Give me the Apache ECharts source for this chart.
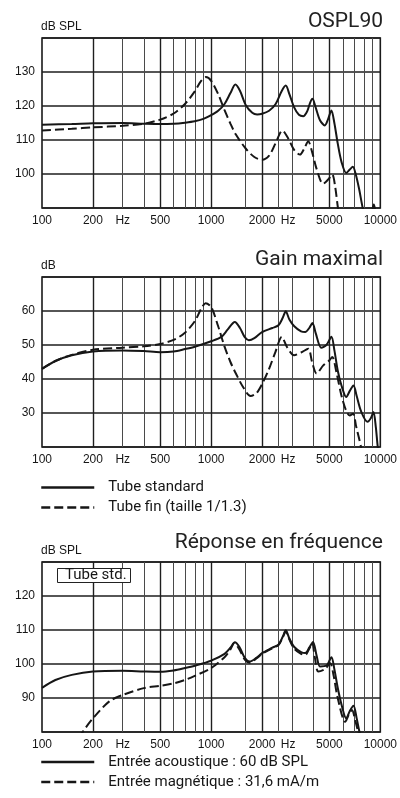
<!DOCTYPE html>
<html>
<head>
<meta charset="utf-8">
<title>Courbes</title>
<script src="https://cdn.jsdelivr.net/npm/echarts@6.0.0/dist/echarts.min.js"></script>
<style>
html, body { margin: 0; padding: 0; background: #fff; }
#chart { width: 400px; height: 798px; }
</style>
</head>
<body>
<div id="chart"></div>
<script>
// --- data (Hz / dB) ---
// grid lines and labels on the frequency axis
const majorGridHz = [200, 500, 1000, 2000, 5000];
const minorGridHz = [300, 400, 600, 700, 800, 900, 1600, 2500, 3000, 4000, 6000, 7000, 8000, 9000];
const xLabelHz = [100, 200, 300, 500, 1000, 2000, 2850, 5000, 10000];
const xLabelText = ['100', '200', 'Hz', '500', '1000', '2000', 'Hz', '5000', '10000'];

// OSPL90
const osplStdHz = [100, 150, 200, 300, 400, 500, 600, 700, 800, 900, 1000, 1100, 1200, 1300, 1390, 1480, 1600, 1750, 1870, 2000, 2200, 2400, 2600, 2760, 2900, 3100, 3300, 3500, 3700, 3850, 3970, 4150, 4400, 4700, 4900, 5140, 5350, 5600, 5900, 6290, 6600, 6880, 7150, 7500, 7870, 8300, 8800, 9150, 9450, 10000];
const osplStdDb = [114.5, 114.7, 114.9, 115.0, 114.8, 114.7, 114.8, 115.1, 115.5, 116.2, 117.3, 118.6, 120.6, 123.8, 126.3, 124.5, 120.3, 118.0, 117.5, 117.7, 118.6, 120.5, 124.2, 126.0, 123.5, 119.5, 117.4, 117.0, 118.5, 121.0, 122.1, 119.5, 115.8, 114.3, 116.0, 118.7, 115.0, 109.0, 103.5, 100.3, 101.3, 102.1, 100.0, 95.5, 90.0, 85.5, 87.5, 91.0, 88.0, 84.0];
const osplFinHz = [100, 150, 200, 300, 400, 500, 600, 700, 800, 870, 930, 1000, 1100, 1200, 1300, 1400, 1600, 1800, 2000, 2200, 2400, 2640, 2850, 3100, 3350, 3550, 3750, 3950, 4200, 4590, 4900, 5200, 5400, 5620, 5900];
const osplFinDb = [112.8, 113.3, 113.7, 114.2, 114.8, 116.0, 117.8, 120.6, 124.3, 127.3, 128.5, 127.4, 123.5, 118.8, 114.8, 111.6, 107.5, 105.0, 104.2, 105.4, 109.0, 112.8, 110.5, 107.0, 105.7, 107.5, 109.6, 106.5, 101.5, 97.1, 98.3, 99.8, 96.5, 90.0, 84.0];

// Gain maximal
const gainStdHz = [100, 120, 150, 200, 300, 400, 500, 600, 700, 800, 1000, 1150, 1250, 1380, 1480, 1580, 1670, 1800, 2000, 2300, 2500, 2650, 2760, 2900, 3100, 3400, 3600, 3800, 3970, 4150, 4480, 4800, 5140, 5350, 5600, 5900, 6290, 6600, 6940, 7250, 7700, 8400, 8800, 9110, 9400, 9660, 10000];
const gainStdDb = [43.0, 45.3, 47.0, 48.1, 48.4, 48.2, 47.9, 48.1, 48.8, 49.5, 51.1, 52.4, 54.5, 56.8, 55.0, 52.3, 51.4, 52.0, 53.8, 55.0, 55.8, 58.0, 59.9, 57.5, 55.5, 54.0, 53.8, 55.0, 56.5, 53.5, 49.2, 50.0, 52.4, 48.5, 42.5, 38.0, 34.7, 36.5, 38.1, 35.0, 30.5, 27.4, 28.5, 30.3, 26.0, 20.0, 15.0];
const gainFinHz = [100, 120, 150, 200, 300, 400, 500, 600, 700, 800, 870, 926, 1000, 1100, 1200, 1300, 1400, 1550, 1710, 1850, 2000, 2200, 2400, 2615, 2800, 3090, 3400, 3750, 3950, 4200, 4600, 5000, 5200, 5500, 5900, 6300, 6590, 6900, 7200, 7690, 8000];
const gainFinDb = [43.0, 45.3, 47.1, 48.6, 49.2, 49.6, 50.3, 51.5, 53.6, 57.0, 60.5, 62.3, 61.2, 55.5, 49.5, 45.0, 41.6, 37.5, 35.0, 35.8, 38.5, 43.0, 48.0, 52.4, 49.5, 47.0, 47.8, 48.9, 45.0, 41.6, 44.0, 45.5, 46.5, 42.0, 35.0, 30.5, 29.3, 29.8, 26.0, 20.0, 15.0];

// Réponse en fréquence
const repAcHz = [100, 120, 150, 200, 300, 400, 500, 600, 700, 800, 1000, 1200, 1300, 1380, 1470, 1580, 1690, 1850, 2000, 2300, 2500, 2650, 2760, 2900, 3100, 3400, 3600, 3800, 4000, 4200, 4400, 4800, 5140, 5350, 5600, 5900, 6290, 6600, 6940, 7250, 7530, 8000];
const repAcDb = [93.0, 95.3, 96.8, 97.8, 98.0, 97.8, 97.7, 98.1, 98.8, 99.5, 101.0, 103.0, 104.8, 106.4, 105.0, 101.8, 100.7, 101.8, 103.2, 104.8, 105.7, 108.0, 109.9, 107.5, 105.0, 103.5, 103.2, 104.8, 106.5, 102.5, 99.3, 99.5, 102.0, 98.5, 93.0, 88.0, 84.0, 86.2, 87.7, 84.0, 80.0, 75.0];
const repMagHz = [150, 174, 200, 250, 300, 400, 500, 600, 700, 800, 1000, 1200, 1300, 1370, 1460, 1580, 1690, 1850, 2000, 2300, 2500, 2650, 2760, 2900, 3100, 3400, 3600, 3800, 3950, 4100, 4300, 4700, 5050, 5300, 5600, 6200, 6500, 6800, 7100, 7400, 7800];
const repMagDb = [75.0, 80.0, 84.0, 89.0, 90.9, 92.9, 93.6, 94.3, 95.3, 96.5, 98.8, 102.0, 104.3, 106.2, 104.5, 101.3, 100.4, 101.6, 103.0, 104.6, 105.6, 107.8, 109.6, 107.2, 104.5, 103.0, 102.7, 104.5, 106.2, 102.0, 97.8, 98.5, 100.2, 96.5, 90.0, 83.0, 85.0, 86.5, 83.5, 80.0, 75.0];

const yRanges = [[90, 140], [20, 70], [80, 130]];
const titles = ['OSPL90', 'Gain maximal', 'Réponse en fréquence'];
const unitNames = ['dB SPL', 'dB', 'dB SPL'];
const legendNames = [
    ['Tube standard', 'Tube fin (taille 1/1.3)'],
    ['Entrée acoustique : 60 dB SPL', 'Entrée magnétique : 31,6 mA/m']
];

// --- layout ---
const gridTops = [38, 277, 562];
const numFont = '"Liberation Sans Narrow", "Liberation Sans", Arial, sans-serif';
const textFont = 'Roboto, "Noto Sans", sans-serif';
const ink = '#161616';

const lg = v => Math.log10(v);
const pairs = (hz, db) => hz.map((f, i) => [lg(f), db[i]]);
const labelLogs = xLabelHz.map(lg);

let grid = [], xAxis = [], yAxis = [];
gridTops.forEach((top, i) => {
    grid.push({
        left: 42, right: 17, top: top, height: 170,
        show: true, borderColor: '#1a1a1a', borderWidth: 1.6
    });
    // main axis: labels + heavy lines
    xAxis.push({
        gridIndex: i, type: 'value', min: 2, max: 4,
        axisLine: { show: false },
        axisTick: { show: false, customValues: majorGridHz.map(lg) },
        splitLine: { show: true, lineStyle: { color: '#1e1e1e', width: 1.4 } },
        axisLabel: {
            customValues: labelLogs,
            margin: 7,
            fontFamily: numFont, fontSize: 12, color: ink,
            formatter: function (v) {
                let j = labelLogs.findIndex(l => Math.abs(l - v) < 1e-6);
                return j < 0 ? '' : xLabelText[j];
            }
        }
    });
    // minor lines
    xAxis.push({
        gridIndex: i, type: 'value', min: 2, max: 4,
        axisLine: { show: false },
        axisTick: { show: false, customValues: minorGridHz.map(lg) },
        axisLabel: { show: false },
        splitLine: { show: true, lineStyle: { color: '#4a4a4a', width: 1 } }
    });
    yAxis.push({
        gridIndex: i, type: 'value',
        min: yRanges[i][0], max: yRanges[i][1], interval: 10,
        axisLine: { show: false },
        axisTick: { show: false },
        splitLine: { lineStyle: { color: '#1e1e1e', width: 1.5 } },
        axisLabel: {
            showMinLabel: false, showMaxLabel: false, margin: 7,
            fontFamily: numFont, fontSize: 12, color: ink
        }
    });
});

const titleTops = [11, 249, 532];
const unitTops = [21, 260, 545];
let title = [];
titles.forEach((t, i) => {
    title.push({
        text: t, right: 17, top: titleTops[i], padding: 0,
        textStyle: { fontFamily: textFont, fontSize: 21, fontWeight: 'normal', color: '#222', lineHeight: 21 }
    });
    title.push({
        text: unitNames[i], left: 41, top: unitTops[i], padding: 0,
        textStyle: { fontFamily: numFont, fontSize: 12, fontWeight: 'normal', color: ink, lineHeight: 12 }
    });
});
title.push({
    text: 'Tube std.', left: 57, top: 568, padding: [0, 4, 0, 8],
    borderWidth: 1, borderColor: '#222', backgroundColor: '#fff',
    textStyle: { fontFamily: textFont, fontSize: 15, fontWeight: 'normal', color: ink, lineHeight: 15 }
});

const solid = { color: ink, width: 2, type: 'solid' };
const dashed = { color: ink, width: 2, type: [9, 4] };
function curve(name, idx, hz, db, style) {
    return {
        name: name, type: 'line', xAxisIndex: idx * 2, yAxisIndex: idx,
        data: pairs(hz, db), symbol: 'none', smooth: 0.3, clip: true,
        silent: true, itemStyle: { color: ink }, lineStyle: style
    };
}

const legendTops = [480, 754.5];
const legend = legendTops.map((top, i) => ({
    left: 40, top: top, orient: 'vertical', padding: 0,
    itemWidth: 53, itemHeight: 15, itemGap: 5,
    selectedMode: false,
    data: legendNames[i],
    itemStyle: { opacity: 0 },
    lineStyle: { width: 2.5 },
    textStyle: { fontFamily: textFont, fontSize: 15, color: ink, lineHeight: 15, padding: [0, 0, 0, 9] }
}));

const option = {
    animation: false,
    backgroundColor: '#fff',
    title: title,
    legend: legend,
    grid: grid,
    xAxis: xAxis,
    yAxis: yAxis,
    series: [
        curve(legendNames[0][0], 0, osplStdHz, osplStdDb, solid),
        curve(legendNames[0][1], 0, osplFinHz, osplFinDb, dashed),
        curve(legendNames[0][0], 1, gainStdHz, gainStdDb, solid),
        curve(legendNames[0][1], 1, gainFinHz, gainFinDb, dashed),
        curve(legendNames[1][0], 2, repAcHz, repAcDb, solid),
        curve(legendNames[1][1], 2, repMagHz, repMagDb, dashed)
    ]
};

const myChart = echarts.init(document.getElementById('chart'));
myChart.setOption(option);
</script>
</body>
</html>
